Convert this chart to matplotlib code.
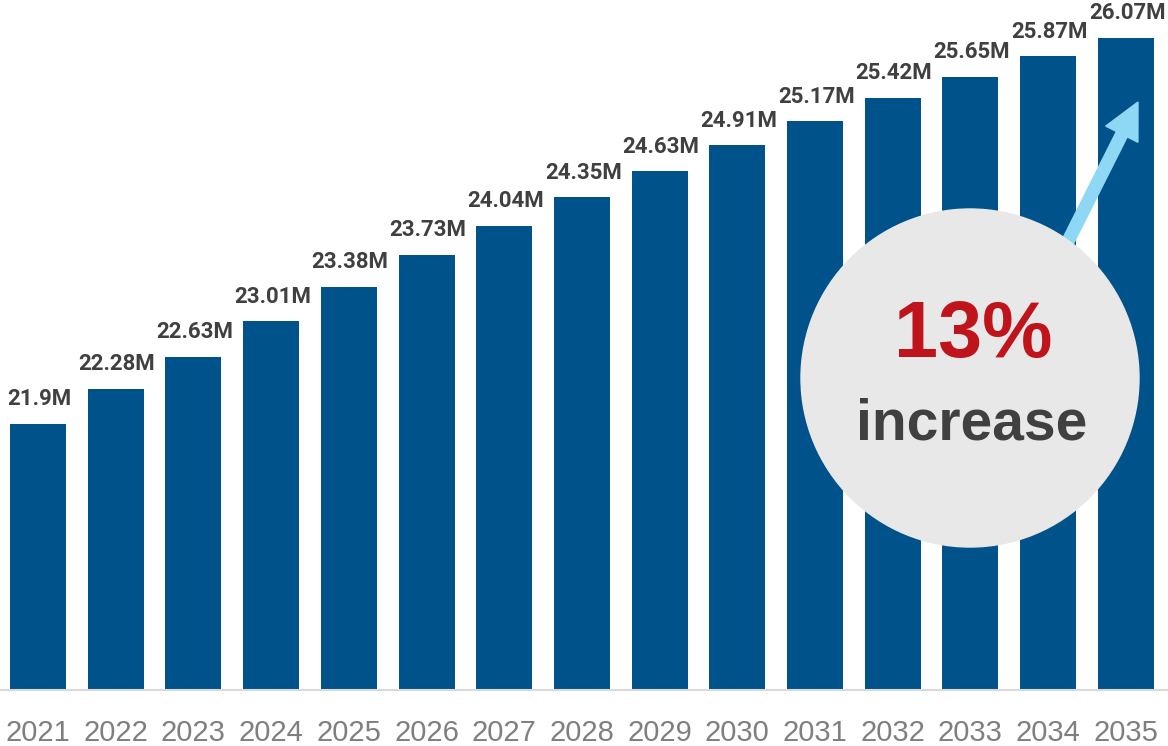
import matplotlib
matplotlib.use("Agg")
import matplotlib.pyplot as plt
from matplotlib.patches import Circle, FancyArrow
import numpy as np

years = [str(y) for y in range(2021, 2036)]
values = [21.9, 22.28, 22.63, 23.01, 23.38, 23.73, 24.04, 24.35,
          24.63, 24.91, 25.17, 25.42, 25.65, 25.87, 26.07]
labels = ["21.9M", "22.28M", "22.63M", "23.01M", "23.38M", "23.73M", "24.04M",
          "24.35M", "24.63M", "24.91M", "25.17M", "25.42M", "25.65M", "25.87M",
          "26.07M"]
callout_pct = "13%"
callout_word = "increase"

BAR = "#00538a"
W, H = 1168, 746
STEP = 77.7  # px between bar centres

fig = plt.figure(figsize=(W / 100, H / 100), dpi=100)
ax = fig.add_axes([0, (H - 690) / H, 1, 690 / H])

x = np.arange(len(values))
ax.bar(x, values, width=56 / STEP, color=BAR, zorder=2)
ax.set_xlim(-38 / STEP, (W - 38) / STEP)
ax.set_ylim(19.03, 26.48)

for xi, v, lab in zip(x, values, labels):
    ax.annotate(lab, (xi, v), xytext=(1, 13.5), textcoords="offset points",
                ha="center", va="baseline", fontsize=16, fontweight="bold",
                family="Roboto", color="#404040")

ax.set_xticks(x)
ax.set_xticklabels(years, fontsize=21, family="Liberation Sans", color="#7f7f7f")
ax.tick_params(axis="x", length=0, pad=21)
ax.set_yticks([])
for s in ["top", "left", "right"]:
    ax.spines[s].set_visible(False)
ax.spines["bottom"].set_color("#d9d9d9")
ax.spines["bottom"].set_linewidth(1.5)

# callout arrow (figure pixel coords -> inches)
tip = (1138, H - 102)
tail = (1040, H - 297)
arrow = FancyArrow(tail[0] / 100, tail[1] / 100, (tip[0] - tail[0]) / 100,
                   (tip[1] - tail[1]) / 100, width=0.12, head_width=0.36,
                   head_length=0.36, length_includes_head=True,
                   color="#8fd8f5", transform=fig.dpi_scale_trans, zorder=2)
fig.add_artist(arrow)

circ = Circle((970 / 100, (H - 378) / 100), 1.69, color="#e8e8e8",
              transform=fig.dpi_scale_trans, zorder=3)
fig.add_artist(circ)

fig.text(973 / W, (H - 357) / H, callout_pct, ha="center", va="baseline",
         fontsize=57, fontweight="bold", family="Liberation Sans",
         color="#c0141c", zorder=4)
fig.text(972 / W, (H - 440) / H, callout_word, ha="center", va="baseline",
         fontsize=41, fontweight="bold", family="Liberation Sans",
         color="#404040", zorder=4)

fig.savefig("out.png", dpi=100)
